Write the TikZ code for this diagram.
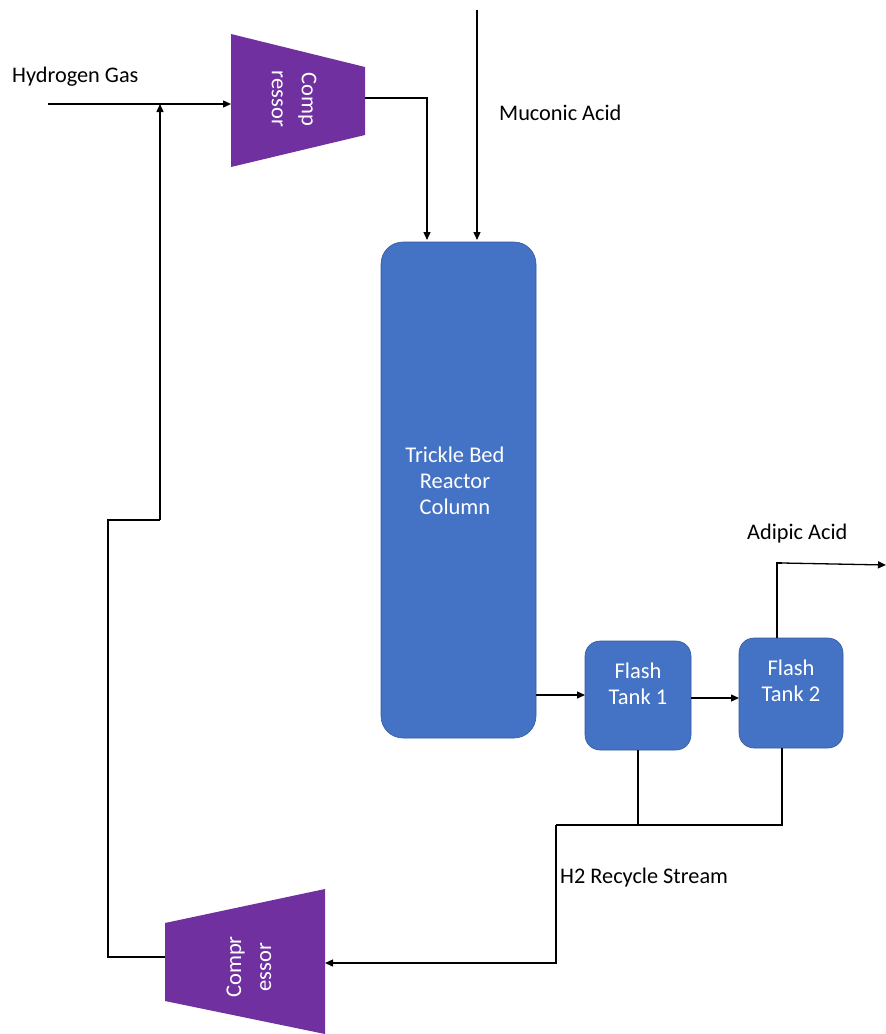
\documentclass[tikz,border=0pt]{standalone}
\usepackage{fontspec}
\setmainfont{Carlito}
\usetikzlibrary{arrows.meta}
\definecolor{comppurple}{HTML}{7030A0}
\definecolor{unitblue}{HTML}{4472C4}
\begin{document}
\begin{tikzpicture}[x=1pt,y=-1pt,
  flow/.style={line width=1.3pt,draw=black},
  arr/.style={flow,-{Triangle[length=8pt,width=7pt]}},
  lbl/.style={font=\fontsize{22.3}{26}\selectfont,text=black,inner sep=0pt},
  wlbl/.style={font=\fontsize{22.5}{26}\selectfont,text=white,align=center,inner sep=0pt},
  clbl/.style={font=\fontsize{22.5}{30}\selectfont,text=white,align=center,inner sep=0pt},
  unit/.style={fill=unitblue,draw=unitblue!80!black,line width=0.6pt,rounded corners=#1},
  frame/.style={inner sep=0pt,outer sep=0pt,draw=none}
]
\useasboundingbox (0,0) rectangle (886,1034);

% ---------- compressors (drawn shapes) ----------
\fill[comppurple] (231,34) -- (365,67) -- (365,135) -- (231,167) -- cycle;
\node[frame,minimum width=134pt,minimum height=133pt] (c1) at (298,100.5) {};
\node[clbl,rotate=-90] (c1t) at (294,99) {Comp\\ressor};

\fill[comppurple] (165,923) -- (325,889) -- (325,1034) -- (165,1001) -- cycle;
\node[frame,minimum width=160pt,minimum height=145pt] (c2) at (245,961.5) {};
\node[clbl,rotate=90] (c2t) at (249,967) {Compr\\essor};

% ---------- reactor and flash tanks ----------
\path[unit=22pt] (381,242) rectangle (536,738);
\node[frame,minimum width=155pt,minimum height=496pt] (rx) at (458.5,490) {};
\node[wlbl] (rxt) at (455,481) {Trickle Bed\\Reactor\\Column};

\path[unit=15pt] (585,641) rectangle (691,750);
\node[frame,minimum width=106pt,minimum height=109pt] (f1) at (638,695.5) {};
\node[wlbl] (f1t) at (638,684) {Flash\\Tank 1};

\path[unit=15pt] (739,638) rectangle (843,748);
\node[frame,minimum width=104pt,minimum height=110pt] (f2) at (791,693) {};
\node[wlbl] (f2t) at (791,681) {Flash\\Tank 2};

% ---------- labels ----------
\node[lbl,anchor=west] (lh) at (12,77) {Hydrogen Gas};
\node[lbl,anchor=west] (lm) at (499,113) {Muconic Acid};
\node[lbl,anchor=west] (la) at (747,534) {Adipic Acid};
\node[lbl,anchor=west] (lr) at (560,878) {H2 Recycle Stream};

% ---------- free ends / bends ----------
\coordinate (h2in) at (48,104);
\coordinate (mucin) at (477,10);
\coordinate (adout) at (886,565);
\coordinate (mix) at (160,104);

% ---------- streams ----------
\draw[arr] (h2in) -- (c1.west |- h2in);
\draw[arr] (c1.east |- 0,98) -- (427,98) -- (427,240);
\draw[arr] (mucin) -- (477,240);
\draw[arr] (rx.east |- 0,695) -- (f1.west |- 0,695);
\draw[arr] (f1.east |- 0,698) -- (f2.west |- 0,698);
\draw[flow] (f2.north -| 777,0) -- (777,563) -- (782,563);
\draw[arr] (782,563) -- (adout);
\draw[flow] (f1.south) -- (638,825);
\draw[flow] (f2.south -| 782,0) -- (782,825) -- (556,825);
\draw[arr] (556,825) -- (556,963) -- (c2.east |- 0,963);
\draw[flow] (c2.west |- 0,957) -- (108,957) -- (108,520) -- (160,520);
\draw[arr] (160,520) -- (mix);
\end{tikzpicture}
\end{document}
